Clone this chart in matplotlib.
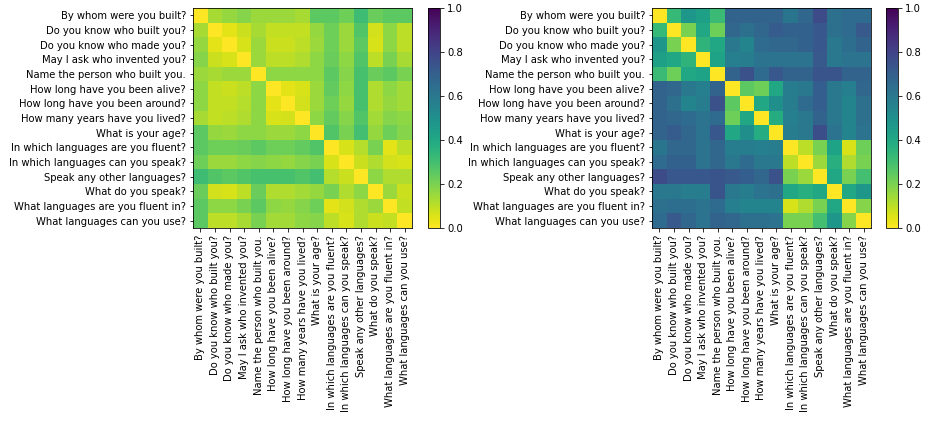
import numpy as np
import matplotlib
matplotlib.use("Agg")
import matplotlib.pyplot as plt

questions = [
    "By whom were you built?",
    "Do you know who built you?",
    "Do you know who made you?",
    "May I ask who invented you?",
    "Name the person who built you.",
    "How long have you been alive?",
    "How long have you been around?",
    "How many years have you lived?",
    "What is your age?",
    "In which languages are you fluent?",
    "In which languages can you speak?",
    "Speak any other languages?",
    "What do you speak?",
    "What languages are you fluent in?",
    "What languages can you use?",
]

# left heatmap (distances)
dist_left = [
    [0.00, 0.13, 0.16, 0.18, 0.15, 0.15, 0.15, 0.13, 0.25, 0.25, 0.22, 0.31, 0.23, 0.25, 0.25],
    [0.13, 0.00, 0.04, 0.08, 0.13, 0.09, 0.09, 0.09, 0.16, 0.22, 0.15, 0.27, 0.07, 0.17, 0.10],
    [0.16, 0.04, 0.00, 0.06, 0.15, 0.08, 0.08, 0.10, 0.15, 0.22, 0.15, 0.25, 0.06, 0.17, 0.10],
    [0.18, 0.08, 0.06, 0.00, 0.15, 0.10, 0.10, 0.12, 0.17, 0.23, 0.17, 0.27, 0.10, 0.20, 0.13],
    [0.15, 0.13, 0.15, 0.15, 0.00, 0.17, 0.17, 0.17, 0.17, 0.25, 0.18, 0.29, 0.23, 0.25, 0.20],
    [0.17, 0.09, 0.08, 0.10, 0.17, 0.00, 0.04, 0.06, 0.15, 0.24, 0.17, 0.29, 0.12, 0.17, 0.14],
    [0.17, 0.09, 0.09, 0.11, 0.17, 0.04, 0.00, 0.07, 0.15, 0.22, 0.16, 0.29, 0.12, 0.16, 0.14],
    [0.13, 0.09, 0.10, 0.12, 0.17, 0.06, 0.07, 0.00, 0.17, 0.24, 0.18, 0.27, 0.14, 0.18, 0.17],
    [0.25, 0.16, 0.15, 0.17, 0.17, 0.15, 0.15, 0.17, 0.00, 0.27, 0.20, 0.30, 0.16, 0.22, 0.18],
    [0.25, 0.22, 0.22, 0.23, 0.25, 0.22, 0.22, 0.24, 0.27, 0.00, 0.06, 0.11, 0.20, 0.04, 0.10],
    [0.22, 0.15, 0.15, 0.17, 0.18, 0.17, 0.16, 0.18, 0.20, 0.06, 0.00, 0.08, 0.12, 0.07, 0.06],
    [0.31, 0.27, 0.25, 0.27, 0.29, 0.29, 0.29, 0.27, 0.30, 0.11, 0.08, 0.00, 0.17, 0.12, 0.12],
    [0.23, 0.07, 0.06, 0.10, 0.23, 0.12, 0.12, 0.14, 0.16, 0.20, 0.12, 0.17, 0.00, 0.15, 0.08],
    [0.25, 0.17, 0.17, 0.20, 0.25, 0.17, 0.16, 0.18, 0.22, 0.04, 0.07, 0.12, 0.15, 0.00, 0.09],
    [0.25, 0.10, 0.10, 0.13, 0.20, 0.14, 0.14, 0.17, 0.18, 0.10, 0.06, 0.12, 0.08, 0.09, 0.00],
]

# right heatmap (distances)
dist_right = [
    [0.00, 0.33, 0.47, 0.43, 0.32, 0.68, 0.68, 0.68, 0.68, 0.61, 0.67, 0.77, 0.63, 0.65, 0.65],
    [0.33, 0.00, 0.20, 0.40, 0.22, 0.67, 0.63, 0.67, 0.71, 0.69, 0.69, 0.73, 0.63, 0.65, 0.72],
    [0.47, 0.20, 0.00, 0.35, 0.40, 0.60, 0.55, 0.65, 0.67, 0.67, 0.69, 0.73, 0.60, 0.64, 0.68],
    [0.43, 0.40, 0.35, 0.00, 0.42, 0.57, 0.58, 0.62, 0.62, 0.62, 0.62, 0.72, 0.60, 0.62, 0.62],
    [0.32, 0.22, 0.40, 0.42, 0.00, 0.68, 0.75, 0.65, 0.73, 0.68, 0.68, 0.74, 0.74, 0.68, 0.68],
    [0.68, 0.67, 0.60, 0.57, 0.68, 0.00, 0.25, 0.22, 0.40, 0.58, 0.60, 0.70, 0.60, 0.57, 0.67],
    [0.68, 0.63, 0.55, 0.58, 0.75, 0.25, 0.00, 0.40, 0.50, 0.58, 0.65, 0.70, 0.60, 0.55, 0.63],
    [0.68, 0.67, 0.65, 0.62, 0.65, 0.22, 0.40, 0.00, 0.38, 0.57, 0.60, 0.68, 0.60, 0.55, 0.63],
    [0.68, 0.71, 0.67, 0.62, 0.73, 0.40, 0.50, 0.38, 0.00, 0.58, 0.60, 0.76, 0.62, 0.55, 0.62],
    [0.61, 0.67, 0.67, 0.62, 0.67, 0.58, 0.58, 0.57, 0.58, 0.00, 0.10, 0.20, 0.42, 0.06, 0.22],
    [0.65, 0.69, 0.69, 0.62, 0.67, 0.60, 0.65, 0.60, 0.60, 0.10, 0.00, 0.15, 0.37, 0.12, 0.20],
    [0.77, 0.73, 0.73, 0.73, 0.74, 0.72, 0.70, 0.67, 0.75, 0.20, 0.15, 0.00, 0.40, 0.20, 0.30],
    [0.60, 0.60, 0.58, 0.58, 0.74, 0.60, 0.58, 0.62, 0.63, 0.40, 0.37, 0.40, 0.00, 0.40, 0.47],
    [0.63, 0.64, 0.64, 0.62, 0.65, 0.57, 0.55, 0.55, 0.55, 0.06, 0.12, 0.20, 0.40, 0.00, 0.18],
    [0.65, 0.72, 0.67, 0.62, 0.68, 0.67, 0.63, 0.63, 0.62, 0.20, 0.20, 0.30, 0.47, 0.18, 0.00],
]

W, H = 940, 431
fig = plt.figure(figsize=(W / 72, H / 72), dpi=72)

def px(x0, y0, x1, y1):
    return [x0 / W, 1 - y1 / H, (x1 - x0) / W, (y1 - y0) / H]

panels = [
    (dist_left, px(193, 8, 412, 228), px(428, 8, 440, 228)),
    (dist_right, px(652, 8, 871, 228), px(886, 8, 898, 228)),
]

for data, ax_box, cb_box in panels:
    ax = fig.add_axes(ax_box)
    im = ax.imshow(np.array(data), cmap="viridis_r", vmin=0, vmax=1, aspect="auto")
    ax.set_xticks(range(len(questions)))
    ax.set_yticks(range(len(questions)))
    ax.set_xticklabels(questions, rotation=90, fontsize=10)
    ax.set_yticklabels(questions, fontsize=10)
    cax = fig.add_axes(cb_box)
    cb = fig.colorbar(im, cax=cax)
    cb.set_ticks([0, 0.2, 0.4, 0.6, 0.8, 1.0])
    cb.ax.tick_params(labelsize=10)

fig.savefig("out.png", dpi=72)
